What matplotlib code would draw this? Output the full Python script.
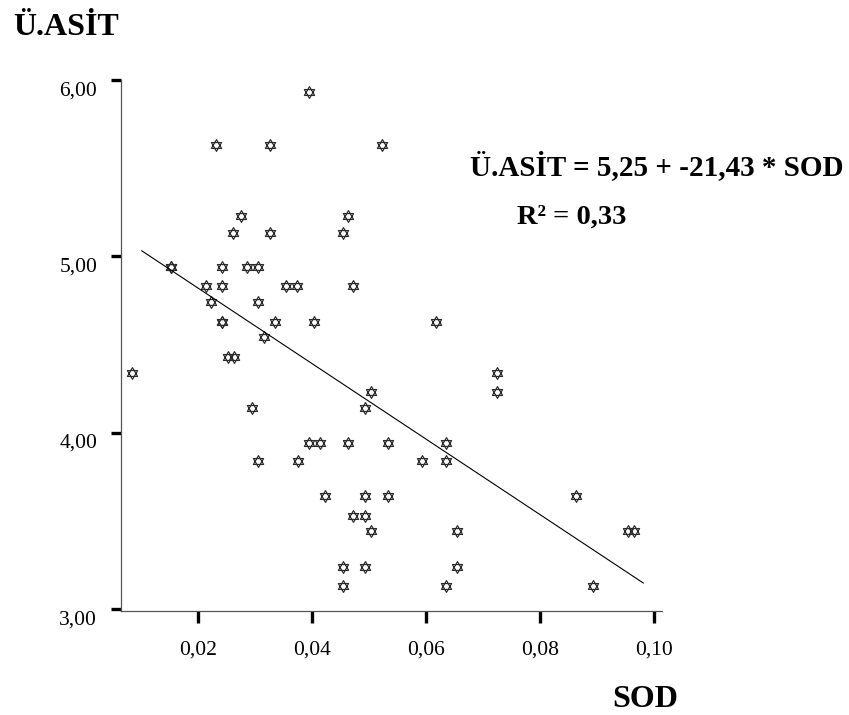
import numpy as np
import matplotlib
matplotlib.use("Agg")
import matplotlib.pyplot as plt
from matplotlib.path import Path
from matplotlib.transforms import ScaledTranslation

# SOD / Ü.ASİT degerleri
sod = [0.0395, 0.0232, 0.0326, 0.0523, 0.0276, 0.0463, 0.0262, 0.0326, 0.0454,
       0.0154, 0.0154, 0.0243, 0.0286, 0.0305, 0.0214, 0.0243, 0.0355, 0.0374,
       0.0473, 0.0224, 0.0305, 0.0243, 0.0243, 0.0336, 0.0404, 0.0617, 0.0316,
       0.0254, 0.0263, 0.0085, 0.0503, 0.0296, 0.0493, 0.0395, 0.0414, 0.0464,
       0.0533, 0.0306, 0.0375, 0.0424, 0.0493, 0.0533, 0.0473, 0.0493, 0.0503,
       0.0454, 0.0493, 0.0454, 0.0725, 0.0725, 0.0635, 0.0593, 0.0635, 0.0863,
       0.0655, 0.0955, 0.0964, 0.0655, 0.0635, 0.0892]
asit = [5.93, 5.63, 5.63, 5.63, 5.23, 5.23, 5.13, 5.13, 5.13,
        4.94, 4.94, 4.94, 4.94, 4.94, 4.83, 4.83, 4.83, 4.83,
        4.83, 4.74, 4.74, 4.63, 4.63, 4.63, 4.63, 4.63, 4.54,
        4.43, 4.43, 4.34, 4.23, 4.14, 4.14, 3.94, 3.94, 3.94,
        3.94, 3.84, 3.84, 3.64, 3.64, 3.64, 3.53, 3.53, 3.44,
        3.24, 3.24, 3.13, 4.34, 4.23, 3.94, 3.84, 3.84, 3.64,
        3.44, 3.44, 3.44, 3.24, 3.13, 3.13]

intercept = 5.25
slope = -21.43
fit_x = [0.0102, 0.0981]

xticks = [0.02, 0.04, 0.06, 0.08, 0.10]
xlabels = ["0,02", "0,04", "0,06", "0,08", "0,10"]
yticks = [3, 4, 5, 6]
ylabels = ["3,00", "4,00", "5,00", "6,00"]

W, H = 849, 715
plt.rcParams['font.family'] = ['Liberation Serif', 'DejaVu Serif']

# star of david marker
verts = [(0, 1), (-0.866, -0.5), (0.866, -0.5), (0, 1),
         (0, -1), (-0.866, 0.5), (0.866, 0.5), (0, -1)]
codes = [Path.MOVETO, Path.LINETO, Path.LINETO, Path.CLOSEPOLY] * 2
star = Path(verts, codes)

fig = plt.figure(figsize=(W / 100, H / 100), dpi=100)
ax = fig.add_axes([121 / W, 1 - 611 / H, (662 - 121) / W, (611 - 80) / H])

ax.plot(sod, asit, linestyle="none", marker=star, markersize=8.5,
        markerfacecolor="none", markeredgecolor="#2a2a2a", markeredgewidth=0.85)

fx = np.array(fit_x)
ax.plot(fx, intercept + slope * fx, color="black", linewidth=0.8)

ax.set_xlim(0.00656, 0.10138)
ax.set_ylim(2.989, 6.0)
ax.set_xticks(xticks)
ax.set_xticklabels(xlabels)
ax.set_yticks(yticks)
ax.set_yticklabels(ylabels)

for s in ["top", "right"]:
    ax.spines[s].set_visible(False)
for s in ["left", "bottom"]:
    ax.spines[s].set_color("#555555")
    ax.spines[s].set_linewidth(0.9)

ax.tick_params(axis="x", direction="out", length=8.5, width=2.4, pad=13,
               labelsize=15.5, colors="black")
ax.tick_params(axis="y", direction="out", length=7.2, width=2.4, pad=10,
               labelsize=15.5, colors="black")

# etiketleri biraz asagi kaydir
for lab in ax.get_yticklabels():
    lab.set_transform(lab.get_transform() +
                      ScaledTranslation(0, -6 / 72, fig.dpi_scale_trans))

fig.text(13 / W, 1 - 35 / H, "Ü.ASİT", fontsize=23, fontweight="bold",
         va="baseline", ha="left")
fig.text(612 / W, 1 - 707 / H, "SOD", fontsize=23, fontweight="bold",
         va="baseline", ha="left")
fig.text(470 / W, 1 - 175 / H, "Ü.ASİT = 5,25 + -21,43 * SOD", fontsize=21,
         fontweight="bold", va="baseline", ha="left")
fig.text(517 / W, 1 - 224 / H, "R² = 0,33", fontsize=20.5, fontweight="bold",
         va="baseline", ha="left")

fig.savefig("out.png", dpi=100)
